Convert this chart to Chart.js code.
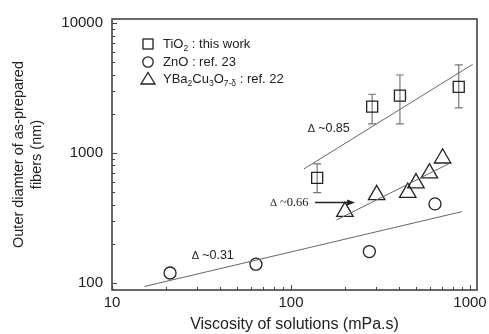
<!DOCTYPE html>
<html>
<head>
<meta charset="utf-8">
<script src="https://cdn.jsdelivr.net/npm/chart.js@4/dist/chart.umd.min.js"></script>
<style>
  html, body { margin: 0; padding: 0; background: #fff; }
  #wrap { width: 489px; height: 334px; }
</style>
</head>
<body>
<div id="wrap"><canvas id="c"></canvas></div>
<script>
// TiO2 fibres (this work): viscosity (mPa.s), diameter (nm), error-bar range
const tio2Visc = [140, 284, 406, 865];
const tio2Diam = [642, 2270, 2761, 3221];
const tio2ErrLow = [495, 1671, 1671, 2218];
const tio2ErrHigh = [823, 2830, 3981, 4754];

// ZnO fibres (ref. 23)
const znoVisc = [21.1, 63.7, 274, 637];
const znoDiam = [119, 139, 174, 405];

// YBa2Cu3O7-δ fibres (ref. 22)
const ybcoVisc = [200, 301, 449, 499, 593, 703];
const ybcoDiam = [353, 475, 495, 585, 698, 910];

// power-law fit lines (end points)
const fitTio2Visc = [118, 1035];
const fitTio2Diam = [753, 4808];
const fitYbcoVisc = [180, 773];
const fitYbcoDiam = [305, 834];
const fitZnoVisc = [15.2, 899];
const fitZnoDiam = [93.7, 353];

// slope annotations and their anchor (left end of text)
const slopeValues = ['~0.85', '~0.66', '~0.31'];
const slopeVisc = [124, 76.4, 27.9];
const slopeDiam = [1531, 412, 162];
// arrow from the 0.66 label to the YBCO fit
const arrowVisc = [136, 228];
const arrowDiam = 415;

// axis tick labels
const xTickLabels = [10, 100, 1000];
const yTickLabels = [100, 1000, 10000];

const FONT = "'Liberation Sans', Arial, sans-serif";
const SERIF = "'Liberation Serif', 'Times New Roman', serif";
const INK = '#222';
const AXIS = '#444';

const toXY = (xs, ys) => xs.map((x, i) => ({ x: x, y: ys[i] }));

// error bars, inner tick marks, frame, legend and annotations
const decorations = {
  id: 'decorations',
  beforeDatasetsDraw(chart) {
    const { ctx } = chart;
    const xs = chart.scales.x, ys = chart.scales.y;
    ctx.save();
    ctx.strokeStyle = '#777';
    ctx.lineWidth = 1.2;
    tio2Visc.forEach((v, i) => {
      const px = xs.getPixelForValue(v);
      const pLo = ys.getPixelForValue(tio2ErrLow[i]);
      const pHi = ys.getPixelForValue(tio2ErrHigh[i]);
      ctx.beginPath();
      ctx.moveTo(px, pLo); ctx.lineTo(px, pHi);
      ctx.moveTo(px - 4, pLo); ctx.lineTo(px + 4, pLo);
      ctx.moveTo(px - 4, pHi); ctx.lineTo(px + 4, pHi);
      ctx.stroke();
    });
    ctx.restore();
  },
  afterDraw(chart) {
    const { ctx, chartArea: a } = chart;
    const xs = chart.scales.x, ys = chart.scales.y;
    ctx.save();

    // inward tick marks on the left and bottom axes
    ctx.strokeStyle = AXIS;
    ctx.lineWidth = 1;
    [1, 10, 100, 1000, 10000].forEach(d => {
      for (let m = 1; m <= 9; m++) {
        const v = m * d;
        const len = m === 1 ? 5 : 3;
        if (v >= xs.min && v <= xs.max) {
          const px = Math.round(xs.getPixelForValue(v)) + 0.5;
          ctx.beginPath(); ctx.moveTo(px, a.bottom); ctx.lineTo(px, a.bottom - len); ctx.stroke();
        }
        if (v >= ys.min && v <= ys.max) {
          const py = Math.round(ys.getPixelForValue(v)) + 0.5;
          ctx.beginPath(); ctx.moveTo(a.left, py); ctx.lineTo(a.left + len, py); ctx.stroke();
        }
      }
    });

    // frame
    ctx.strokeStyle = AXIS;
    ctx.lineWidth = 1.6;
    ctx.strokeRect(a.left, a.top, a.right - a.left, a.bottom - a.top);

    // slope annotations: small Delta followed by the exponent
    ctx.fillStyle = INK;
    ctx.textBaseline = 'middle';
    ctx.textAlign = 'left';
    slopeValues.forEach((t, i) => {
      const serif = i === 1;
      let x = xs.getPixelForValue(slopeVisc[i]);
      const y = ys.getPixelForValue(slopeDiam[i]);
      ctx.font = '11px ' + (serif ? SERIF : FONT);
      ctx.fillText('\u0394', x, y + 0.5);
      x += ctx.measureText('\u0394 ').width;
      ctx.font = serif ? '12.5px ' + SERIF : '12.5px ' + FONT;
      ctx.fillText(t, x, y);
    });

    // arrow
    const ax0 = xs.getPixelForValue(arrowVisc[0]);
    const ax1 = xs.getPixelForValue(arrowVisc[1]);
    const ay = ys.getPixelForValue(arrowDiam);
    ctx.strokeStyle = INK;
    ctx.lineWidth = 1.3;
    ctx.beginPath(); ctx.moveTo(ax0, ay); ctx.lineTo(ax1 - 6, ay); ctx.stroke();
    ctx.beginPath();
    ctx.moveTo(ax1, ay); ctx.lineTo(ax1 - 8, ay - 3); ctx.lineTo(ax1 - 8, ay + 3); ctx.closePath();
    ctx.fill();

    // legend
    const lx = 148, tx = 163;
    const rows = [44, 62, 79];
    ctx.strokeStyle = INK;
    ctx.lineWidth = 1.3;
    ctx.strokeRect(lx - 5, rows[0] - 5, 10, 10);
    ctx.beginPath(); ctx.arc(lx, rows[1], 5.2, 0, Math.PI * 2); ctx.stroke();
    ctx.beginPath();
    ctx.moveTo(lx, rows[2] - 6.5); ctx.lineTo(lx + 7, rows[2] + 5); ctx.lineTo(lx - 7, rows[2] + 5); ctx.closePath();
    ctx.stroke();

    const drawRich = (parts, x, y) => {
      parts.forEach(([txt, sub]) => {
        ctx.font = (sub ? '8.5px ' : '13px ') + FONT;
        const yy = sub ? y + 5 : y;
        ctx.fillText(txt, x, yy);
        x += ctx.measureText(txt).width;
      });
    };
    ctx.fillStyle = INK;
    drawRich([['TiO', false], ['2', true], [' : this work', false]], tx, rows[0]);
    drawRich([['ZnO : ref. 23', false]], tx, rows[1]);
    drawRich([['YBa', false], ['2', true], ['Cu', false], ['3', true], ['O', false], ['7-\u03b4', true], [' : ref. 22', false]], tx, rows[2]);

    ctx.restore();
  }
};

const markerStyle = {
  showLine: false,
  backgroundColor: 'rgba(255,255,255,0)',
  borderColor: INK,
  borderWidth: 1.3,
  pointBackgroundColor: 'rgba(255,255,255,0)',
  pointBorderColor: INK,
  pointBorderWidth: 1.3
};
const fitStyle = {
  showLine: true,
  borderColor: '#666',
  borderWidth: 1,
  pointRadius: 0,
  fill: false
};

new Chart(document.getElementById('c'), {
  type: 'scatter',
  data: {
    datasets: [
      Object.assign({ label: 'TiO2 fit', data: toXY(fitTio2Visc, fitTio2Diam) }, fitStyle),
      Object.assign({ label: 'YBCO fit', data: toXY(fitYbcoVisc, fitYbcoDiam) }, fitStyle),
      Object.assign({ label: 'ZnO fit', data: toXY(fitZnoVisc, fitZnoDiam) }, fitStyle),
      Object.assign({ label: 'TiO2 : this work', data: toXY(tio2Visc, tio2Diam), pointStyle: 'rect', pointRadius: 7.8 }, markerStyle),
      Object.assign({ label: 'ZnO : ref. 23', data: toXY(znoVisc, znoDiam), pointStyle: 'circle', pointRadius: 6 }, markerStyle),
      Object.assign({ label: 'YBa2Cu3O7-δ : ref. 22', data: toXY(ybcoVisc, ybcoDiam), pointStyle: 'triangle', pointRadius: 9.5 }, markerStyle)
    ]
  },
  options: {
    responsive: true,
    maintainAspectRatio: false,
    animation: false,
    devicePixelRatio: 1,
    layout: { padding: { left: 0, right: 12, top: 19, bottom: 0 } },
    plugins: { legend: { display: false }, tooltip: { enabled: false } },
    scales: {
      x: {
        type: 'logarithmic',
        min: 10,
        max: 1094,
        grid: { display: false, drawTicks: false },
        border: { display: false },
        afterFit: s => { s.height = 44; },
        ticks: {
          autoSkip: false,
          maxRotation: 0,
          padding: 4,
          color: INK,
          font: { family: FONT, size: 15 },
          callback: v => xTickLabels.includes(v) ? String(v) : ''
        },
        title: {
          display: true,
          text: 'Viscosity of solutions (mPa.s)',
          color: INK,
          font: { family: FONT, size: 16 },
          padding: { top: 0, bottom: 0 }
        }
      },
      y: {
        type: 'logarithmic',
        min: 88,
        max: 10740,
        grid: { display: false, drawTicks: false },
        border: { display: false },
        afterFit: s => { s.width = 112; },
        ticks: {
          autoSkip: false,
          padding: 9,
          color: INK,
          font: { family: FONT, size: 15 },
          callback: v => yTickLabels.includes(v) ? String(v) : ''
        },
        title: {
          display: true,
          text: ['Outer diamter of as-prepared', 'fibers (nm)'],
          color: INK,
          font: { family: FONT, size: 14.5, lineHeight: 1.25 },
          padding: { top: 10, bottom: 0 }
        }
      }
    }
  },
  plugins: [decorations]
});
</script>
</body>
</html>
